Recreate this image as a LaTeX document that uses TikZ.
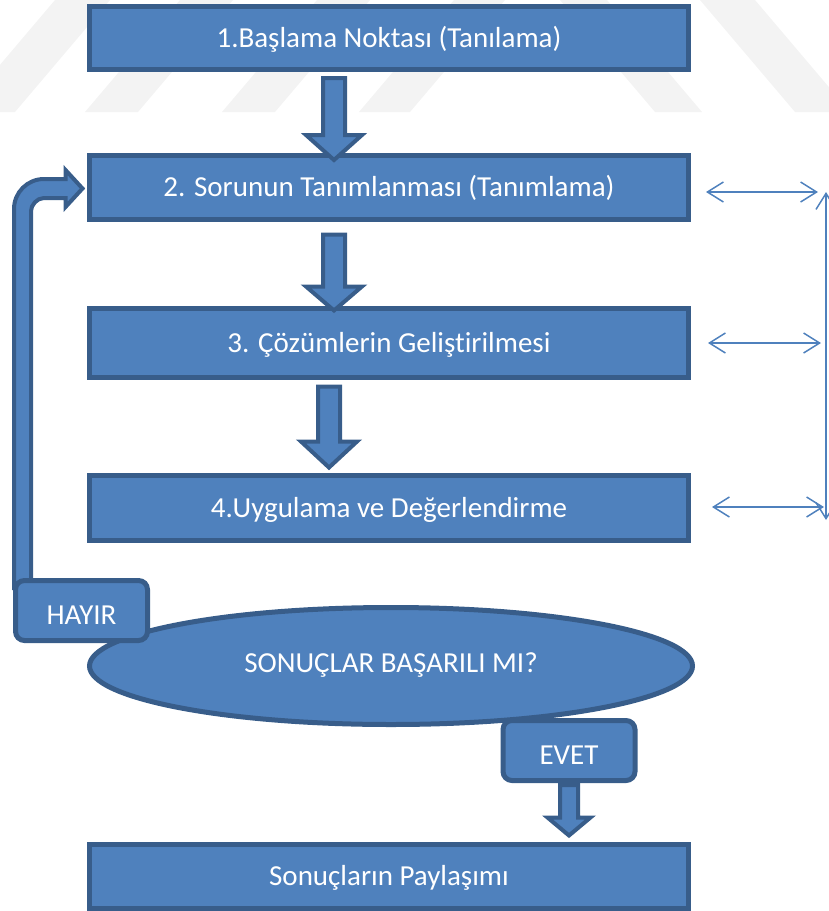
\documentclass[tikz,border=0pt]{standalone}
\usepackage{fontspec}
\setmainfont{Carlito}[Ligatures=NoCommon]
\usetikzlibrary{shapes.geometric,arrows.meta,calc,backgrounds}
\definecolor{ofill}{HTML}{4F81BD}
\definecolor{oline}{HTML}{385D8A}
\definecolor{wmark}{HTML}{F3F3F3}
\newcommand\blkdown[5]{%
  \filldraw[blk] let \p1=(#1), \p2=(#2) in
    (\x2-#3,\y1) -- (\x2+#3,\y1) -- (\x2+#3,\y2+#5) -- (\x2+#4,\y2+#5) --
    (\x2,\y2) -- (\x2-#4,\y2+#5) -- (\x2-#3,\y2+#5) -- cycle;}
\begin{document}
\begin{tikzpicture}[x=1pt,y=-1pt,
  txt/.style={text=white,font=\fontsize{29}{35}\selectfont,text height=24pt,text depth=6pt,inner sep=0pt},
  box/.style={txt,draw=oline,fill=ofill,line width=5pt,minimum width=599pt},
  oval/.style={txt,ellipse,draw=oline,fill=ofill,line width=5pt,minimum width=603pt,minimum height=117pt,text height=24pt,text depth=12pt},
  tag/.style={txt,draw=oline,fill=ofill,line width=5pt,rounded corners=9pt,minimum width=132pt,minimum height=60pt,text height=30pt,text depth=3pt},
  blk/.style={draw=oline,fill=ofill,line width=4pt,line join=miter},
  thin/.style={draw=ofill,line width=1.5pt,{Straight Barb[length=16pt,width=20pt]}-{Straight Barb[length=16pt,width=20pt]}}]
\useasboundingbox (0,0) rectangle (828,911);

% faint watermark stripes
\begin{scope}[on background layer]
\fill[wmark] (-40,112) -- (15,112) -- (110,0) -- (55,0) -- cycle;
\fill[wmark] (85,112) -- (138,112) -- (233,0) -- (180,0) -- cycle;
\fill[wmark] (222,112) -- (275,112) -- (370,0) -- (317,0) -- cycle;
\fill[wmark] (359,112) -- (410,112) -- (505,0) -- (454,0) -- cycle;
\fill[wmark] (655,112) -- (702,112) -- (607,0) -- (560,0) -- cycle;
\fill[wmark] (795,112) -- (850,112) -- (755,0) -- (700,0) -- cycle;
\end{scope}

% boxes
\node[box,minimum height=63pt] (b1) at (389,38) {1.Başlama Noktası (Tanılama)};
\node[box,minimum height=64pt] (b2) at (389,187.5) {2. Sorunun Tanımlanması (Tanımlama)};
\node[box,minimum height=69pt] (b3) at (389,343) {3. Çözümlerin Gelişt\kern0pt irilmesi};
\node[box,minimum height=65pt] (b4) at (389,508) {4.Uygulama ve Değerlendirme};
\node[box,minimum height=64pt] (b5) at (389,876.5) {Sonuçların Paylaşımı};
\node[oval] (q) at (391,666) {SONUÇLAR BAŞARILI MI?};
\node[tag] (no) at (81.5,610.5) {HAYIR};
\node[tag] (yes) at (569,750.5) {EVET};

% down block arrows
\blkdown{$(b1.south)+(-55,6)$}{$(b2.north)+(-55,7)$}{11pt}{28pt}{25pt}
\blkdown{$(b2.south)+(-55,12.5)$}{$(b3.north)+(-55,4.5)$}{11pt}{28pt}{24pt}
\blkdown{$(b3.south)+(-60,6.5)$}{$(b4.north)+(-60,-5.5)$}{11pt}{28pt}{26pt}
\blkdown{$(yes.south)+(0,2)$}{$(yes.south |- b5.north)+(0,-6.5)$}{9pt}{21.5pt}{18pt}

% bent arrow from HAYIR back to box 2
\begin{scope}[on background layer]
\filldraw[blk] let \p1=(no.north), \p2=(b2.west) in
  (\x1-67.5pt,\y1-10pt) -- (\x1-67.5pt,\y2-21.5pt)
  .. controls (\x1-67.5pt,\y2-4.9pt) and (\x1-54.1pt,\y2+8.5pt) .. (\x1-37.5pt,\y2+8.5pt)
  -- (\x2-21.5pt,\y2+8.5pt) -- (\x2-21.5pt,\y2+17.5pt) -- (\x2-4.5pt,\y2-1pt)
  -- (\x2-21.5pt,\y2-19.5pt) -- (\x2-21.5pt,\y2-10.5pt) -- (\x1-37.5pt,\y2-10.5pt)
  .. controls (\x1-44.7pt,\y2-10.5pt) and (\x1-50.5pt,\y2-17.7pt) .. (\x1-50.5pt,\y2-23.5pt)
  -- (\x1-50.5pt,\y1-10pt) -- cycle;
\end{scope}

% right-hand thin double arrows
\coordinate (r1a) at (706,192);
\coordinate (r1b) at (818,192);
\coordinate (r2a) at (708,343);
\coordinate (r2b) at (821,343);
\coordinate (r3a) at (712,507);
\coordinate (r3b) at (824,507);
\coordinate (vt) at (826,192);
\coordinate (vb) at (826,520);
\draw[thin] (r1a) -- (r1b);
\draw[thin] (r2a) -- (r2b);
\draw[thin] (r3a) -- (r3b);
\draw[thin] (vt) -- (vb);
\end{tikzpicture}
\end{document}
